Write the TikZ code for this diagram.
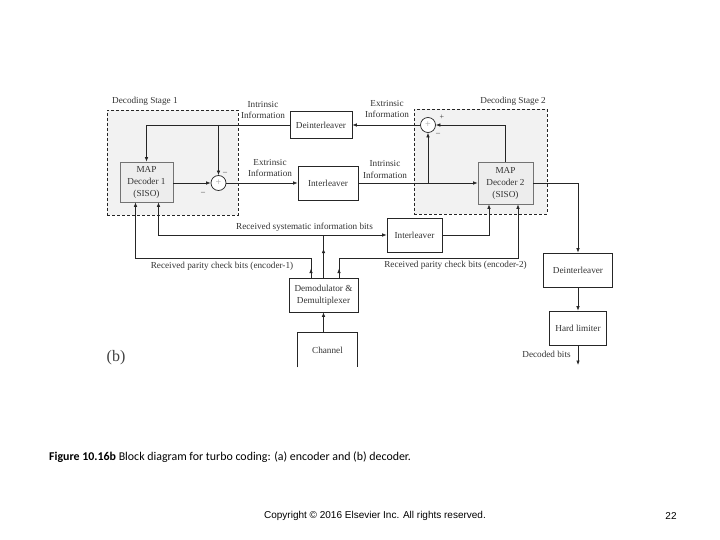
\documentclass[tikz,border=0pt]{standalone}
\usepackage{fontspec}
\setmainfont{Liberation Serif}
\newfontfamily\capfont{Carlito}
\newfontfamily\copyfont{Liberation Sans}
\usetikzlibrary{arrows.meta,calc}
\begin{document}
\begin{tikzpicture}[x=1pt,y=-1pt,
  blk/.style={draw=black!85, line width=0.7pt, fill=white, inner sep=0pt, font=\fontsize{9.2}{11}\selectfont, text=black!80},
  mapblk/.style={blk, draw=black!55, fill=black!7, align=center, font=\fontsize{9.2}{12}\selectfont},
  stagebox/.style={draw=black!85, line width=0.9pt, dash pattern=on 3pt off 2pt, fill=black!5, inner sep=0pt},
  sumc/.style={circle, draw=black!85, line width=0.7pt, fill=white, minimum size=15pt, inner sep=0pt, text=black!35, font=\fontsize{10}{10}\selectfont},
  conn/.style={draw=black!85, line width=0.65pt, -{Latex[length=4.5pt,width=3.5pt]}},
  plain/.style={draw=black!85, line width=0.65pt},
  lbl/.style={font=\fontsize{9.2}{11}\selectfont, text=black!80, inner sep=0pt, align=center},
  sgn/.style={font=\fontsize{8}{8}\selectfont, text=black!80, inner sep=0pt}]
\useasboundingbox (0,0) rectangle (720,540);

% stage boxes
\node[stagebox, minimum width=131pt, minimum height=105pt] (st1) at (172.5,162.5) {};
\node[stagebox, minimum width=133pt, minimum height=105pt] (st2) at (480.5,161.5) {};
\node[lbl, anchor=west] (st1l) at (112,101) {Decoding Stage 1};
\node[lbl, anchor=east] (st2l) at (546,101) {Decoding Stage 2};

% blocks
\node[mapblk, minimum width=53pt, minimum height=40pt] (map1) at (146.5,182) {MAP\\Decoder 1\\(SISO)};
\node[mapblk, minimum width=55pt, minimum height=42pt] (map2) at (505.5,183) {MAP\\Decoder 2\\(SISO)};
\node[sumc] (sum1) at (218.5,183) {+};
\node[sumc] (sum2) at (428,125) {+};
\node[blk, minimum width=62pt, minimum height=27pt] (deint1) at (321,125) {Deinterleaver};
\node[blk, minimum width=60pt, minimum height=34pt] (int1) at (328,183) {Interleaver};
\node[blk, minimum width=55pt, minimum height=34pt] (int2) at (414.5,235) {Interleaver};
\node[blk, minimum width=69pt, minimum height=34pt, align=center, font=\fontsize{9.2}{12}\selectfont] (demod) at (323.5,295) {Demodulator \&\\Demultiplexer};
\node[blk, draw=none, fill=none, minimum width=59pt, minimum height=34pt] (channel) at (327.5,350) {Channel};
\draw[draw=black!85, line width=0.7pt] (channel.south west) -- (channel.north west) -- (channel.north east) -- (channel.south east);
\node[blk, minimum width=69pt, minimum height=34pt] (deint2) at (578,270) {Deinterleaver};
\node[blk, minimum width=57pt, minimum height=34pt] (hard) at (578,328) {Hard limiter};
\coordinate (out) at (578,365);

% signs
\node[sgn] (s1a) at (225,173) {--};
\node[sgn] (s1b) at (203,193) {--};
\node[sgn] (s2a) at (442,117) {+};
\node[sgn] (s2b) at (438,134) {--};

% decoder feedback loop
\draw[conn] (deint1.west) -| (map1.north);
\draw[conn] (sum1.north |- deint1.west) -- (sum1.north);
\draw[conn] (map1.east |- sum1.west) -- (sum1.west);
\draw[conn] (sum1.east) -- (int1.west);
\draw[conn] (int1.east) -- (map2.west);
\draw[conn] (sum2.south |- int1.east) -- (sum2.south);
\draw[conn] (map2.north) |- (sum2.east);
\draw[conn] (sum2.west) -- (deint1.east);
\draw[conn] (map2.east) -| (deint2.north);
\draw[conn] (deint2.south) -- (hard.north);
\draw[conn] (hard.south) -- (out);
\draw[conn] (demod.south |- channel.north) -- (demod.south);

% demod outputs
\coordinate (m1a) at ($(map1.south)+(-11,0)$);
\coordinate (m1b) at ($(map1.south)+(12,0)$);
\coordinate (m2a) at ($(map2.south)+(-16.5,0)$);
\coordinate (m2b) at ($(map2.south)+(12.5,0)$);
\coordinate (d1) at ($(demod.north)+(-12.5,0)$);
\coordinate (d3) at ($(demod.north)+(15.5,0)$);
\coordinate (sj) at (demod.north |- int2.west);

\draw[conn] (demod.north) -- ++(0,-29);
\draw[plain] (demod.north) -- (sj);
\draw[conn] (sj) -- (int2.west);
\draw[conn] (sj) -| (m1b);
\draw[conn] (int2.east) -| (m2a);
\draw[conn] (d1) -- ++(0,-9);
\draw[conn] (d1) |- ($(m1a)+(0,56)$) -- (m1a);
\draw[conn] (d3) -- ++(0,-9);
\draw[conn] (d3) |- ($(m2b)+(0,54)$) -- (m2b);

% labels
\node[lbl] (l1) at (263,110) {Intrinsic\\Information};
\node[lbl] (l2) at (270,168) {Extrinsic\\Information};
\node[lbl] (l3) at (385,169.5) {Intrinsic\\Information};
\node[lbl] (l4) at (387,109.5) {Extrinsic\\Information};
\node[lbl] (l5) at (304.5,227) {Received systematic information bits};
\node[lbl] (l6) at (222,266) {Received parity check bits (encoder-1)};
\node[lbl] (l7) at (455.5,265) {Received parity check bits (encoder-2)};
\node[lbl] (l8) at (546.5,354) {Decoded bits};
\node[font=\fontsize{16}{16}\selectfont, text=black!75, inner sep=0pt] (b) at (116,358) {(b)};

% caption and footer
\node[anchor=west, inner sep=0pt, font=\capfont\fontsize{11.9}{13}\selectfont] (cap) at (49,457) {\textbf{Figure 10.16b} Block diagram for turbo coding: (a) encoder and (b) decoder.};
\node[inner sep=0pt, font=\copyfont\fontsize{10}{11}\selectfont] (copy) at (375,516) {Copyright © 2016 Elsevier Inc. All rights reserved.};
\node[inner sep=0pt, font=\copyfont\fontsize{10}{11}\selectfont] (pg) at (671,516) {22};
\end{tikzpicture}
\end{document}
